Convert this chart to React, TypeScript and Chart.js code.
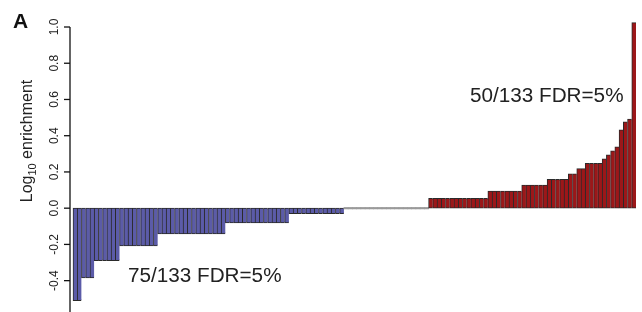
import React, { useEffect, useRef } from "react";
import { Chart, registerables } from "chart.js";

Chart.register(...registerables);

// Log10 enrichment per category, sorted
const negativeValues = [
  -0.51, -0.51,
  -0.385, -0.385, -0.385,
  -0.29, -0.29, -0.29, -0.29, -0.29, -0.29,
  -0.208, -0.208, -0.208, -0.208, -0.208, -0.208, -0.208, -0.208, -0.208,
  -0.142, -0.142, -0.142, -0.142, -0.142, -0.142, -0.142, -0.142,
  -0.142, -0.142, -0.142, -0.142, -0.142, -0.142, -0.142, -0.142,
  -0.081, -0.081, -0.081, -0.081, -0.081, -0.081, -0.081, -0.081,
  -0.081, -0.081, -0.081, -0.081, -0.081, -0.081, -0.081,
  -0.03, -0.03, -0.03, -0.03, -0.03, -0.03, -0.03, -0.03, -0.03,
  -0.03, -0.03, -0.03, -0.03,
];

const zeroValues = [
  0, 0, 0, 0, 0, 0, 0, 0, 0, 0,
  0, 0, 0, 0, 0, 0, 0, 0, 0, 0,
];

const positiveValues = [
  0.054, 0.054, 0.054, 0.054, 0.054, 0.054, 0.054,
  0.054, 0.054, 0.054, 0.054, 0.054, 0.054, 0.054,
  0.095, 0.095, 0.095, 0.095, 0.095, 0.095, 0.095, 0.095,
  0.128, 0.128, 0.128, 0.128, 0.128, 0.128,
  0.159, 0.159, 0.159, 0.159, 0.159,
  0.19, 0.19,
  0.218, 0.218,
  0.248, 0.248, 0.248, 0.248,
  0.272, 0.294, 0.316, 0.338, 0.432, 0.477, 0.492, 1.024,
];

const tickValues = [-0.4, -0.2, 0, 0.2, 0.4, 0.6, 0.8, 1.0];
const tickLabels = ["-0.4", "-0.2", "0.0", "0.2", "0.4", "0.6", "0.8", "1.0"];

const panelLabel = "A";
const titleMain = "Log";
const titleSub = "10";
const titleRest = " enrichment";
const negativeNote = "75/133 FDR=5%";
const positiveNote = "50/133 FDR=5%";

const values = [...negativeValues, ...zeroValues, ...positiveValues];
const categories = values.map((_, i) => String(i + 1));

const BLUE = "#5b5ba8";
const RED = "#9c1719";
const GRAY = "#9a9a9a";
const EDGE = "#2a2a2a";
const FONT = "'Liberation Sans', Arial, Helvetica, sans-serif";

const decorPlugin = {
  id: "decor",
  afterDraw(chart: any) {
    const { ctx, chartArea } = chart;
    const y = chart.scales.y;
    const axisX = chartArea.left - 3;
    ctx.save();
    // axis line
    ctx.strokeStyle = "#111";
    ctx.lineWidth = 1.3;
    ctx.beginPath();
    ctx.moveTo(axisX, y.getPixelForValue(tickValues[tickValues.length - 1]));
    ctx.lineTo(axisX, chartArea.bottom);
    ctx.stroke();
    // ticks and labels
    ctx.fillStyle = "#222";
    ctx.font = `12px ${FONT}`;
    tickValues.forEach((v, i) => {
      const py = y.getPixelForValue(v);
      ctx.beginPath();
      ctx.moveTo(axisX - 6, py);
      ctx.lineTo(axisX, py);
      ctx.stroke();
      ctx.save();
      ctx.translate(axisX - 12, py);
      ctx.rotate(-Math.PI / 2);
      ctx.textAlign = "center";
      ctx.textBaseline = "alphabetic";
      ctx.fillText(tickLabels[i], 0, 0);
      ctx.restore();
    });
    // axis title with subscript
    ctx.save();
    ctx.translate(32, 141);
    ctx.rotate(-Math.PI / 2);
    ctx.textAlign = "left";
    ctx.textBaseline = "alphabetic";
    ctx.font = `16px ${FONT}`;
    const w1 = ctx.measureText(titleMain).width;
    const w3 = ctx.measureText(titleRest).width;
    ctx.font = `11px ${FONT}`;
    const w2 = ctx.measureText(titleSub).width;
    const start = -(w1 + w2 + w3) / 2;
    ctx.font = `16px ${FONT}`;
    ctx.fillText(titleMain, start, 0);
    ctx.font = `11px ${FONT}`;
    ctx.fillText(titleSub, start + w1, 4);
    ctx.font = `16px ${FONT}`;
    ctx.fillText(titleRest, start + w1 + w2, 0);
    ctx.restore();
    // panel label
    ctx.font = `bold 21px ${FONT}`;
    ctx.textAlign = "left";
    ctx.fillStyle = "#111";
    ctx.fillText(panelLabel, 13, 28);
    // notes
    ctx.font = `20.7px ${FONT}`;
    ctx.fillStyle = "#222";
    ctx.fillText(negativeNote, 128, 282);
    ctx.fillText(positiveNote, 470, 102);
    ctx.restore();
  },
};

export default function App() {
  const ref = useRef<HTMLCanvasElement | null>(null);
  useEffect(() => {
    if (!ref.current) return;
    const colors = values.map((v) => (v < 0 ? BLUE : v > 0 ? RED : GRAY));
    const borders = values.map((v) => (v === 0 ? GRAY : EDGE));
    const widths = values.map((v) =>
      v === 0 ? 0 : { left: 1, right: 0, top: 1, bottom: 1 }
    );
    const chart = new Chart(ref.current, {
      type: "bar",
      data: {
        labels: categories,
        datasets: [
          {
            data: values,
            backgroundColor: colors,
            borderColor: borders,
            borderWidth: widths as any,
            borderSkipped: false,
            barPercentage: 1,
            categoryPercentage: 1,
            minBarLength: 1.5,
            clip: false as any,
          },
        ],
      },
      options: {
        responsive: false,
        devicePixelRatio: 1,
        animation: false,
        layout: { padding: { left: 73, right: 6, top: 27, bottom: 0 } },
        plugins: { legend: { display: false }, tooltip: { enabled: false } },
        scales: {
          x: { type: "category", display: false, offset: true },
          y: { display: false, min: -0.573, max: 1.0 },
        },
      },
      plugins: [decorPlugin],
    });
    return () => chart.destroy();
  }, []);
  return (
    <div style={{ position: "absolute", left: 0, top: 0, width: 642, height: 312, background: "#fff" }}>
      <canvas ref={ref} width={642} height={312} />
    </div>
  );
}
